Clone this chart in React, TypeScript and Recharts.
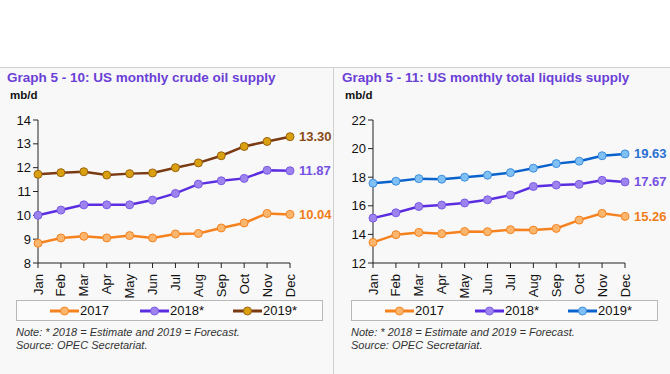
import React from "react";
import { Line, LineChart, XAxis, YAxis } from "recharts";

const months = ["Jan", "Feb", "Mar", "Apr", "May", "Jun", "Jul", "Aug", "Sep", "Oct", "Nov", "Dec"];
const seriesNames = ["2017", "2018*", "2019*"];

const crude2017 = [8.83, 9.05, 9.12, 9.05, 9.15, 9.05, 9.22, 9.24, 9.47, 9.68, 10.08, 10.04];
const crude2018 = [10.0, 10.22, 10.44, 10.44, 10.44, 10.64, 10.92, 11.31, 11.45, 11.55, 11.89, 11.87];
const crude2019 = [11.72, 11.79, 11.83, 11.69, 11.75, 11.78, 12.0, 12.2, 12.5, 12.89, 13.1, 13.3];
const crudeTicks = [8, 9, 10, 11, 12, 13, 14];

const liquids2017 = [13.44, 13.98, 14.14, 14.05, 14.2, 14.19, 14.33, 14.3, 14.42, 15.0, 15.47, 15.26];
const liquids2018 = [15.14, 15.51, 15.95, 16.05, 16.2, 16.42, 16.75, 17.35, 17.45, 17.5, 17.78, 17.67];
const liquids2019 = [17.58, 17.72, 17.9, 17.86, 18.0, 18.14, 18.32, 18.63, 18.95, 19.12, 19.5, 19.63];
const liquidsTicks = [12, 14, 16, 18, 20, 22];

const FONT = "'Liberation Sans', Arial, sans-serif";
const PURPLE_TITLE = "#6a3fd6";

type Style = { line: string; fill: string; dotStroke: string; label: string };

const orange: Style = { line: "#f5821f", fill: "#fbb66e", dotStroke: "#f5821f", label: "#f07d1a" };
const purple: Style = { line: "#5a2ee0", fill: "#9d83ee", dotStroke: "#7b5ae6", label: "#7650e2" };
const brown: Style = { line: "#7a3a12", fill: "#d9a011", dotStroke: "#9a6210", label: "#8a4a16" };
const blue: Style = { line: "#0a62cc", fill: "#80c0f2", dotStroke: "#3c8ee0", label: "#2a70d2" };

function XTick(props: any) {
  const { x, y, payload } = props;
  return (
    <text
      transform={`translate(${x},${y + 4}) rotate(-90)`}
      textAnchor="end"
      dominantBaseline="central"
      fontSize={13}
      fontFamily={FONT}
      fill="#111"
    >
      {payload.value}
    </text>
  );
}

function endLabel(color: string) {
  return (p: any) => {
    if (p.index !== 11) return <g />;
    return (
      <text x={p.x + 9} y={p.y} dominantBaseline="central" fontSize={13} fontWeight="bold" fontFamily={FONT} fill={color}>
        {Number(p.value).toFixed(2)}
      </text>
    );
  };
}

function Panel(props: {
  left: number;
  title: string;
  a: number[];
  b: number[];
  c: number[];
  ticks: number[];
  styles: Style[];
}) {
  const { left, title, a, b, c, ticks, styles } = props;
  const data = months.map((m, i) => ({ m, a: a[i], b: b[i], c: c[i] }));
  const keys = ["a", "b", "c"];
  const legendX = [33, 123, 216];
  return (
    <div style={{ position: "absolute", left, top: 67, width: 335, height: 307 }}>
      <div
        style={{
          position: "absolute",
          left: 7,
          top: 3,
          fontFamily: FONT,
          fontWeight: "bold",
          fontSize: 13.5,
          color: PURPLE_TITLE,
          whiteSpace: "nowrap",
        }}
      >
        {title}
      </div>
      <div style={{ position: "absolute", left: 10, top: 22, fontFamily: FONT, fontWeight: "bold", fontSize: 11.5, color: "#111" }}>
        mb/d
      </div>
      <div style={{ position: "absolute", left: 0, top: 33 }}>
        <LineChart width={335} height={198} data={data} margin={{ top: 20, right: 45, left: 8, bottom: 0 }}>
          <XAxis
            dataKey="m"
            interval={0}
            height={35}
            tick={<XTick />}
            tickSize={5}
            stroke="#222"
            tickLine={{ stroke: "#222" }}
            padding={{ left: 0, right: 0 }}
          />
          <YAxis
            domain={[ticks[0], ticks[ticks.length - 1]]}
            ticks={ticks}
            width={30}
            tickSize={5}
            stroke="#222"
            tick={{ fontSize: 13, fill: "#111", fontFamily: FONT }}
            interval={0}
          />
          {keys.map((k, i) => (
            <Line
              key={k}
              dataKey={k}
              type="linear"
              stroke={styles[i].line}
              strokeWidth={2.5}
              dot={{ r: 4, fill: styles[i].fill, stroke: styles[i].dotStroke, strokeWidth: 1 }}
              activeDot={false}
              label={endLabel(styles[i].label)}
              isAnimationActive={false}
            />
          ))}
        </LineChart>
      </div>
      <div
        style={{
          position: "absolute",
          left: 16,
          top: 233,
          width: 307,
          height: 21,
          border: "1px solid #b8b8b8",
          background: "#fbfbfb",
          boxSizing: "border-box",
        }}
      >
        {seriesNames.map((n, i) => (
          <div key={n} style={{ position: "absolute", left: legendX[i], top: 0, height: 19, display: "flex", alignItems: "center" }}>
            <svg width={29} height={10} style={{ display: "block" }}>
              <line x1={0} y1={5} x2={29} y2={5} stroke={styles[i].line} strokeWidth={3} />
              <circle cx={14.5} cy={5} r={4} fill={styles[i].fill} stroke={styles[i].dotStroke} strokeWidth={1} />
            </svg>
            <span style={{ fontFamily: FONT, fontSize: 13, color: "#111", marginLeft: 1 }}>{n}</span>
          </div>
        ))}
      </div>
      <div style={{ position: "absolute", left: 16, top: 259, fontFamily: FONT, fontStyle: "italic", fontSize: 11, color: "#333", lineHeight: "13px" }}>
        Note: * 2018 = Estimate and 2019 = Forecast.
        <br />
        Source: OPEC Secretariat.
      </div>
    </div>
  );
}

export default function App() {
  return (
    <div style={{ position: "fixed", left: 0, top: 0, width: 670, height: 374, background: "#fff", overflow: "hidden" }}>
      <div style={{ position: "absolute", left: 0, top: 67, width: 670, height: 307, background: "#f8f8f8", borderTop: "1px solid #d0d0d0" }} />
      <div style={{ position: "absolute", left: 333, top: 67, width: 1, height: 307, background: "#d0d0d0" }} />
      <Panel
        left={0}
        title="Graph 5 - 10: US monthly crude oil supply"
        a={crude2017}
        b={crude2018}
        c={crude2019}
        ticks={crudeTicks}
        styles={[orange, purple, brown]}
      />
      <Panel
        left={335}
        title="Graph 5 - 11: US monthly total liquids supply"
        a={liquids2017}
        b={liquids2018}
        c={liquids2019}
        ticks={liquidsTicks}
        styles={[orange, purple, blue]}
      />
    </div>
  );
}
